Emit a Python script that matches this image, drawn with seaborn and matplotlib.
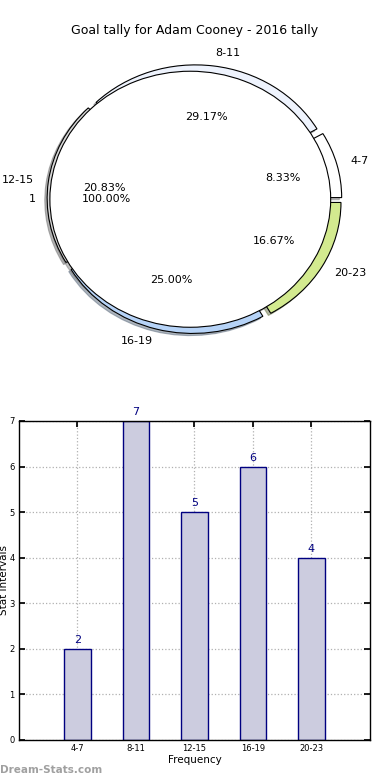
import matplotlib
matplotlib.use("Agg")
import matplotlib.pyplot as plt
import seaborn as sns
import pandas as pd

# ---- data ----
categories = ["4-7", "8-11", "12-15", "16-19", "20-23"]
goals = [2, 7, 5, 6, 4]
inner_labels = ["1"]
inner_values = [1]
title = "Goal tally for Adam Cooney - 2016 tally"

# ---- style ----
sns.set_theme(style="white")
plt.rcParams["font.family"] = ["DejaVu Sans"]
plt.rcParams["text.color"] = "black"
plt.rcParams["axes.labelcolor"] = "black"
plt.rcParams["xtick.color"] = "black"
plt.rcParams["ytick.color"] = "black"

pie_colors = ["#ffffff", "#eef3fd", "#d8d8d8", "#b6d3f7", "#d3ea8f"]
explode = [0.05, 0.05, 0.05, 0.05, 0.05]
shadow = dict(ox=-0.012, oy=-0.012, shade=0.5)

fig = plt.figure(figsize=(3.9, 7.8), dpi=100)
fig.patch.set_facecolor("white")

# ---- pie ----
ax1 = fig.add_axes([0.0487, 0.5394, 0.9, 0.4103])
wp = dict(linewidth=0.8, edgecolor="black")
tp = dict(fontsize=8, color="black")
ax1.pie(goals, labels=categories, autopct="%.2f%%", colors=pie_colors,
        explode=explode, shadow=shadow, startangle=0, counterclock=True,
        pctdistance=0.6, labeldistance=1.1, wedgeprops=wp, textprops=tp)
ax1.pie(inner_values, labels=inner_labels, autopct="%.2f%%", colors=["white"],
        radius=1.0, explode=[0.03], shadow=shadow, startangle=0,
        pctdistance=0.6, labeldistance=1.1, wedgeprops=wp, textprops=tp)
ax1.set_aspect("auto")
ax1.set_xlim(-1.25, 1.25)
ax1.set_ylim(-1.25, 1.25)
ax1.axis("off")
fig.text(0.5, 0.961, title, ha="center", va="center", fontsize=9, color="black")

# ---- bars ----
ax2 = fig.add_axes([0.0487, 0.0513, 0.9, 0.409])
df = pd.DataFrame({"Frequency": categories, "Goals": goals})
sns.barplot(data=df, x="Frequency", y="Goals", color="#ccccdf", saturation=1,
            edgecolor="#000080", linewidth=1.0, width=0.45, ax=ax2, zorder=2)
for i, v in enumerate(goals):
    ax2.text(i, v + 0.08, str(v), ha="center", va="bottom", fontsize=8,
             color="#000080")
ax2.set_xlim(-1, 5)
ax2.set_ylim(0, 7)
ax2.set_yticks(range(0, 8))
ax2.grid(True, linestyle=":", color="#b0b0b0", linewidth=0.9, zorder=0)
ax2.set_axisbelow(True)
ax2.tick_params(axis="both", direction="in", labelsize=6, length=4,
                top=True, right=True, bottom=True, left=True, pad=3)
for s in ax2.spines.values():
    s.set_color("black")
    s.set_linewidth(1.0)
ax2.set_xlabel("Frequency", fontsize=7.5, labelpad=1)
ax2.set_ylabel("Stat Intervals", fontsize=7.5)
ax2.yaxis.set_label_coords(-0.028, 0.5)

fig.text(0.0, 0.013, "Dream-Stats.com", fontsize=7.5, color="#a0a0a0",
         fontweight="bold", ha="left", va="center")

fig.savefig("out.png", dpi=100)
